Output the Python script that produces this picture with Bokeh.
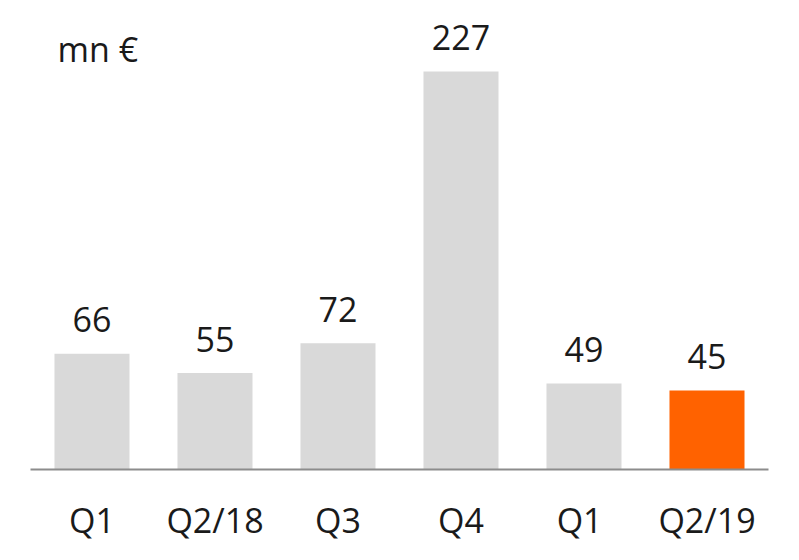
from bokeh.plotting import figure
from bokeh.models import ColumnDataSource, Label, Range1d
from bokeh.core.properties import value
from bokeh.embed import file_html
from bokeh.resources import INLINE

categories = ["Q1", "Q2/18", "Q3", "Q4", "Q1 ", "Q2/19"]
tick_labels = ["Q1", "Q2/18", "Q3", "Q4", "Q1", "Q2/19"]
values = [66, 55, 72, 227, 49, 45]
colors = ["#d9d9d9", "#d9d9d9", "#d9d9d9", "#d9d9d9", "#d9d9d9", "#ff6200"]
unit_label = "mn €"

FONT = "Open Sans"
TXT = "#1a1a1a"

src = ColumnDataSource(dict(cat=categories, val=values, col=colors,
                            lab=[str(v) for v in values]))

p = figure(x_range=categories, y_range=Range1d(0, 263),
           width=783, height=552, output_backend="svg",
           toolbar_location=None, min_border_left=30, min_border_right=15,
           min_border_top=8, min_border_bottom=83)

p.vbar(x="cat", top="val", width=0.61, fill_color="col", line_color=None,
       source=src)
p.text(x="cat", y="val", text="lab", source=src, text_align="center",
       text_baseline="alphabetic", y_offset=-34, text_font=value(FONT),
       text_font_size="34px", text_color=TXT)

p.add_layout(Label(x=0.22, y=240, text=unit_label, text_font=FONT,
                   text_font_size="34px", text_color=TXT,
                   text_baseline="alphabetic"))

p.xgrid.visible = False
p.ygrid.visible = False
p.yaxis.visible = False
p.outline_line_color = None
p.background_fill_color = "white"
p.border_fill_color = "white"

ax = p.xaxis[0]
ax.axis_line_color = "#8c8c8c"
ax.axis_line_width = 2
ax.major_tick_line_color = None
ax.minor_tick_line_color = None
ax.major_label_standoff = 21
ax.major_label_text_font = FONT
ax.major_label_text_font_size = "34px"
ax.major_label_text_color = TXT
ax.major_label_overrides = {c: t for c, t in zip(categories, tick_labels)}

open("out.html", "w").write(file_html(p, INLINE))
